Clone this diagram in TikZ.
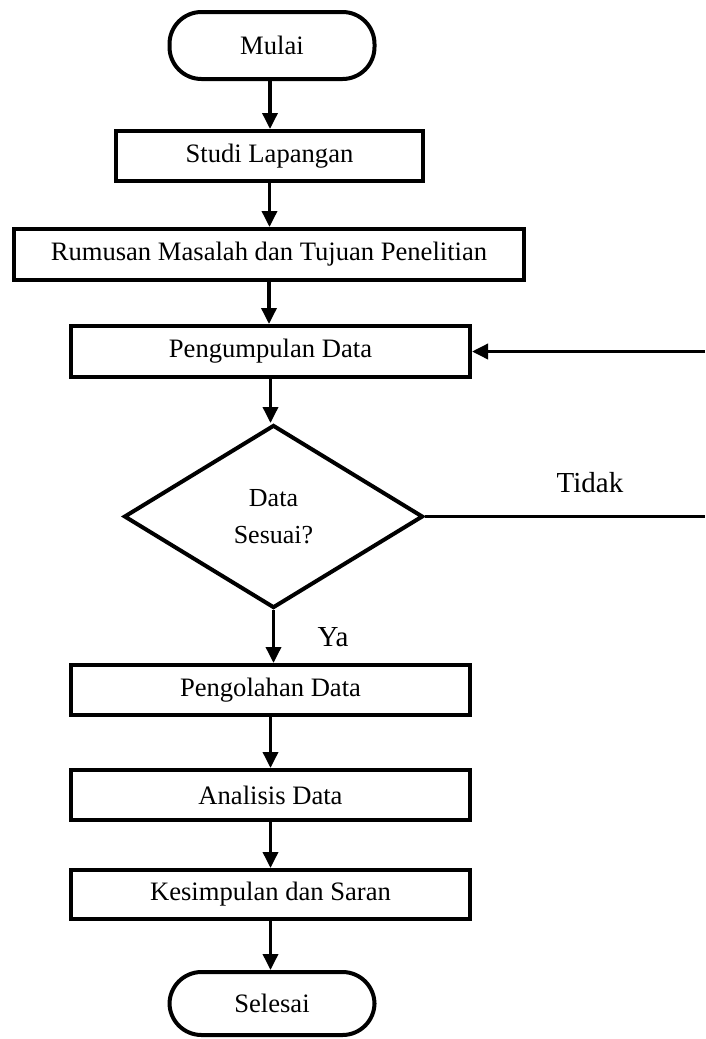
\documentclass[tikz,border=0pt]{standalone}
\usepackage{fontspec}
\setmainfont{Liberation Serif}
\usetikzlibrary{shapes.geometric,arrows.meta}
\begin{document}
\begin{tikzpicture}[x=1pt,y=-1pt,
  box/.style={draw,line width=4pt,rectangle,minimum height=50pt,inner sep=0pt,font=\fontsize{26.6}{30}\selectfont},
  term/.style={draw,line width=4pt,rectangle,rounded corners=32pt,minimum width=205pt,inner sep=0pt,font=\fontsize{26.6}{30}\selectfont},
  dec/.style={draw,diamond,line width=4pt,minimum width=299pt,minimum height=183pt,inner sep=0pt,align=center,font=\fontsize{26}{37}\selectfont},
  arr/.style={line width=3.5pt,-{Triangle[length=16pt,width=15pt]}},
  lbl/.style={inner sep=0pt,font=\fontsize{29}{34}\selectfont}]
\useasboundingbox (0,0) rectangle (705,1039);
\node[term,minimum height=67pt] (mulai) at (272,45.5) {Mulai};
\node[box,minimum width=307pt] (studi) at (269.5,156) {Studi Lapangan};
\node[box,minimum width=510pt,minimum height=51pt] (rumusan) at (269,254.5) {Rumusan Masalah dan Tujuan Penelitian};
\node[box,minimum width=399pt,minimum height=51pt] (kumpul) at (270.5,351.5) {Pengumpulan Data};
\node[dec] (dec) at (273.5,516.5) {Data\\Sesuai?};
\node[box,minimum width=399pt] (olah) at (270.5,690) {Pengolahan Data};
\node[box,minimum width=399pt] (analisis) at (270.5,795) {Analisis Data};
\node[box,minimum width=399pt,minimum height=49pt] (kesimpulan) at (270.5,894.5) {Kesimpulan dan Saran};
\node[term,minimum height=63pt] (selesai) at (272,1003.5) {Selesai};
\node[lbl] (tidak) at (590,483) {Tidak};
\node[lbl] (ya) at (333,637) {Ya};
\coordinate (r1) at (705,351.5);
\coordinate (r2) at (705,516.5);
\draw[arr] ([xshift=-2pt]mulai.south) -- ([xshift=-2pt]mulai.south |- studi.north);
\draw[arr] (studi.south) -- (studi.south |- rumusan.north);
\draw[arr] (rumusan.south) -- (rumusan.south |- kumpul.north);
\draw[arr] (kumpul.south) -- (kumpul.south |- dec.north);
\draw[arr] (dec.south) -- (dec.south |- olah.north);
\draw[arr] (olah.south) -- (olah.south |- analisis.north);
\draw[arr] (analisis.south) -- (analisis.south |- kesimpulan.north);
\draw[arr] (kesimpulan.south) -- (kesimpulan.south |- selesai.north);
\draw[line width=3.5pt] (dec.east) -- (r2);
\draw[arr] (r1) -- (kumpul.east);
\end{tikzpicture}
\end{document}
